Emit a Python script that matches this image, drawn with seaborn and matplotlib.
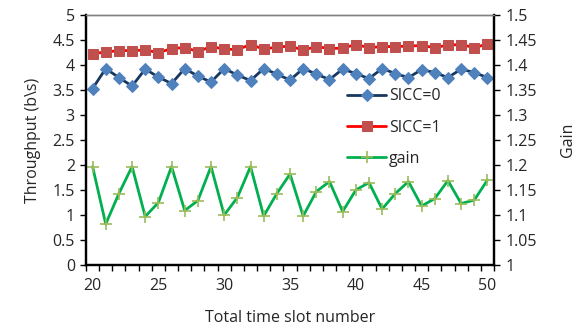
import pandas as pd
import matplotlib.pyplot as plt
import seaborn as sns
import numpy as np
from matplotlib.ticker import MultipleLocator, FixedLocator, FuncFormatter

# === Data ===
slots = list(range(20, 51))
sicc0 = [3.53, 3.93, 3.75, 3.58, 3.92, 3.76, 3.63, 3.93, 3.78, 3.66, 3.93, 3.80, 3.69,
         3.93, 3.82, 3.70, 3.93, 3.82, 3.71, 3.92, 3.83, 3.73, 3.93, 3.83, 3.75,
         3.91, 3.85, 3.75, 3.92, 3.85, 3.75]
sicc1 = [4.23, 4.26, 4.29, 4.29, 4.30, 4.25, 4.33, 4.35, 4.27, 4.37, 4.32, 4.31, 4.41,
         4.32, 4.36, 4.38, 4.30, 4.37, 4.33, 4.34, 4.41, 4.35, 4.37, 4.37, 4.38,
         4.39, 4.35, 4.40, 4.41, 4.35, 4.42]
gain = [1.197, 1.082, 1.143, 1.197, 1.097, 1.125, 1.197, 1.109, 1.129, 1.197, 1.100, 1.135, 1.197,
        1.098, 1.143, 1.182, 1.098, 1.147, 1.167, 1.107, 1.150, 1.165, 1.112, 1.143, 1.167,
        1.118, 1.133, 1.169, 1.123, 1.130, 1.170]

df = pd.DataFrame({"slot": slots, "SICC=0": sicc0, "SICC=1": sicc1, "gain": gain})

# === Style ===
sns.set_style("ticks")
plt.rcParams['font.family'] = ['Open Sans', 'DejaVu Sans']
fs = 11.5

fig, ax = plt.subplots(figsize=(5.87, 3.28), dpi=100)
fig.subplots_adjust(left=0.1465, right=0.8416, top=0.954, bottom=0.192)
ax2 = ax.twinx()

sns.lineplot(data=df, x="slot", y="SICC=0", ax=ax, color="#17375E", lw=2,
             marker="D", markersize=6, markerfacecolor="#4F81BD", markeredgecolor="#4F81BD",
             label="SICC=0", legend=False)
sns.lineplot(data=df, x="slot", y="SICC=1", ax=ax, color="#FF0000", lw=2,
             marker="s", markersize=7.5, markerfacecolor="#C0504D", markeredgecolor="#C0504D",
             label="SICC=1", legend=False)
sns.lineplot(data=df, x="slot", y="gain", ax=ax2, color="#00B050", lw=2,
             marker="+", markersize=8, markeredgewidth=1.2, markeredgecolor="#9BBB59",
             label="gain", legend=False)

# === Axes ===
ax.set_xlim(19.5, 50.5)
ax.set_ylim(0, 5)
ax2.set_ylim(1, 1.5)
ax.yaxis.set_major_locator(MultipleLocator(0.5))
ax2.yaxis.set_major_locator(MultipleLocator(0.05))
fmt = FuncFormatter(lambda v, pos: f"{round(v, 2):g}")
ax.yaxis.set_major_formatter(fmt)
ax2.yaxis.set_major_formatter(fmt)

ax.xaxis.set_major_locator(FixedLocator(np.arange(20, 51, 5)))
ax.xaxis.set_minor_locator(FixedLocator(np.arange(19.5, 51, 1)))
ax.tick_params(axis='x', which='major', length=0, labelsize=fs, pad=9)
ax.tick_params(axis='x', which='minor', length=4, width=1, color='black', direction='out')
ax.tick_params(axis='y', length=4, width=1, color='black', labelsize=fs, pad=4)
ax2.tick_params(axis='y', length=4, width=1, color='black', labelsize=fs, pad=4)

for a in (ax, ax2):
    for side in ('left', 'right', 'bottom'):
        a.spines[side].set_color('black')
        a.spines[side].set_linewidth(1.6)
    a.spines['top'].set_color('#808080')
    a.spines['top'].set_linewidth(1)

ax.set_xlabel("Total time slot number", fontsize=fs, labelpad=12)
ax.set_ylabel("Throughput (b\\s)", fontsize=fs, labelpad=8)
ax2.set_ylabel("Gain", fontsize=fs, labelpad=17)

# === Legend ===
h1, l1 = ax.get_legend_handles_labels()
h2, l2 = ax2.get_legend_handles_labels()
ax2.legend(h1 + h2, l1 + l2, loc='center left', bbox_to_anchor=(0.625, 0.55),
           frameon=False, fontsize=fs, handlelength=2.4, handletextpad=0.2,
           labelspacing=0.95, borderaxespad=0)

fig.savefig("out.png", dpi=100)
